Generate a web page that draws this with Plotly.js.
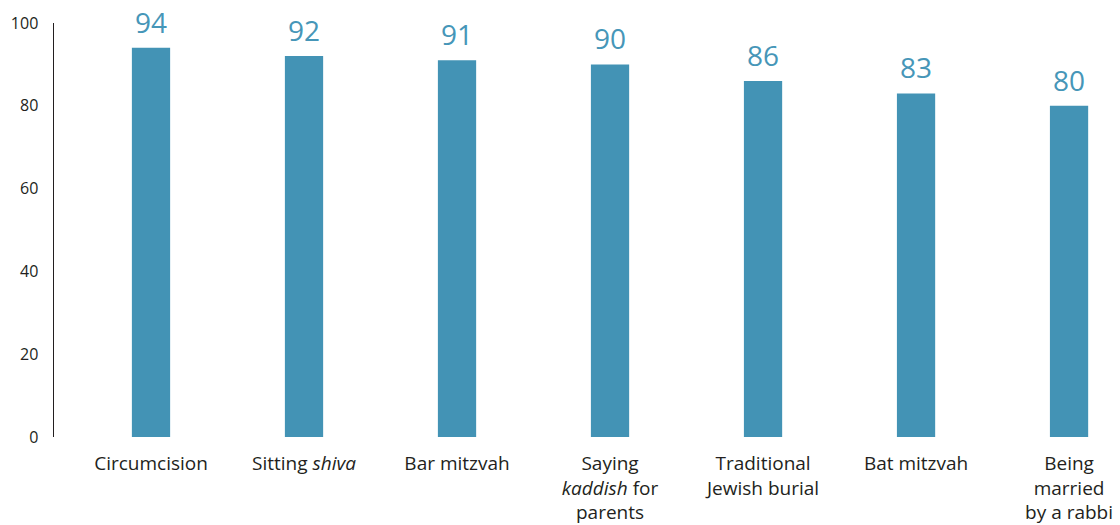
<!DOCTYPE html>
<html>
<head>
<meta charset="utf-8">
<script src="https://cdn.plot.ly/plotly-3.0.1.min.js"></script>
<style>html,body{margin:0;padding:0;background:#fff;}#chart{width:1120px;height:525px;}</style>
</head>
<body>
<div id="chart"></div>
<script>
const categories = [
  "Circumcision",
  "Sitting <i>shiva</i>",
  "Bar mitzvah",
  "Saying<br><i>kaddish</i> for<br>parents",
  "Traditional<br>Jewish burial",
  "Bat mitzvah",
  "Being<br>married<br>by a rabbi"
];
const values = [94, 92, 91, 90, 86, 83, 80];
const yTickVals = [0, 20, 40, 60, 80, 100];
const yTickText = ["0", "20", "40", "60", "80", "100"];

const barColor = "#4393b5";
const labelColor = "#4696b8";
const textColor = "#231f20";

const trace = {
  type: "bar",
  x: categories,
  y: values,
  marker: {color: barColor},
  hoverinfo: "x+y"
};

const annotations = categories.map((c, i) => ({
  x: c, y: values[i], xref: "x", yref: "y",
  text: String(values[i]),
  showarrow: false, yanchor: "bottom", yshift: 5,
  font: {family: "Open Sans, sans-serif", size: 28, color: labelColor}
}));

const layout = {
  width: 1120, height: 525,
  margin: {l: 54, r: 0, t: 23, b: 88},
  paper_bgcolor: "#fff", plot_bgcolor: "#fff",
  showlegend: false,
  bargap: 0.75,
  font: {family: "Open Sans, sans-serif", color: textColor},
  xaxis: {
    type: "category",
    categoryorder: "array", categoryarray: categories,
    range: [-0.634, 6.333],
    showline: false, showgrid: false, zeroline: false,
    ticks: "", ticklabelstandoff: 13,
    tickfont: {family: "Open Sans, sans-serif", size: 19, color: textColor}
  },
  yaxis: {
    range: [0, 100],
    showline: true, linecolor: textColor, linewidth: 1.5,
    showgrid: false, zeroline: false,
    ticks: "", ticklabelstandoff: 11,
    tickvals: yTickVals, ticktext: yTickText,
    tickfont: {family: "Open Sans, sans-serif", size: 16, color: textColor}
  },
  annotations: annotations
};

Plotly.newPlot("chart", [trace], layout, {displayModeBar: false, staticPlot: true});
</script>
</body>
</html>
